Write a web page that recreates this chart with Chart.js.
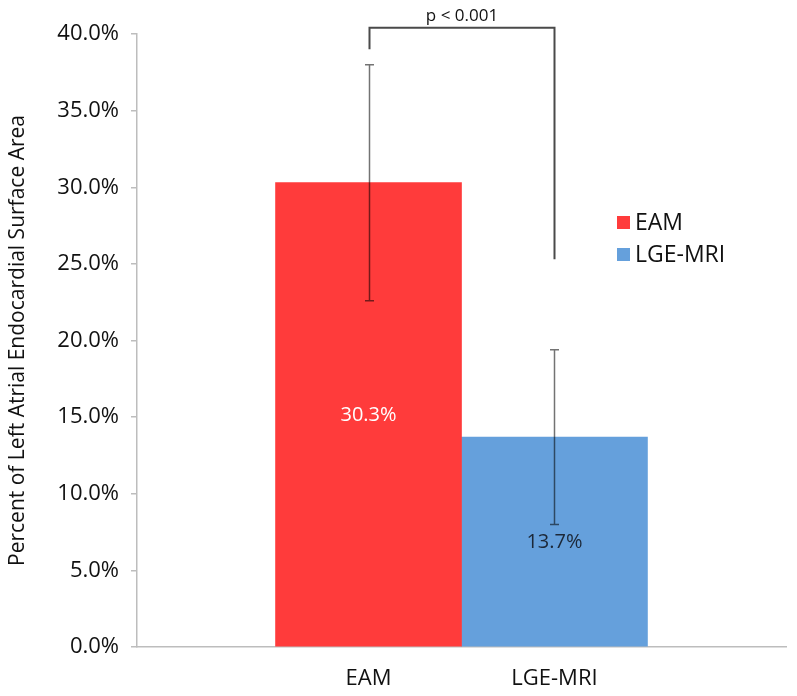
<!DOCTYPE html>
<html>
<head>
<meta charset="utf-8">
<script src="https://cdn.jsdelivr.net/npm/chart.js@4/dist/chart.umd.min.js"></script>
<style>
  html, body { margin: 0; padding: 0; background: #fff; }
  #wrap { width: 797px; height: 696px; }
</style>
</head>
<body>
<div id="wrap"><canvas id="chart" width="797" height="696"></canvas></div>
<script>
// --- DATA ---
const categories = ['EAM', 'LGE-MRI'];
const means = [30.3, 13.7];
const errLow = [22.6, 8.0];
const errHigh = [38.0, 19.4];
const barColors = ['#ff3b3b', '#65a0dc'];
const valueLabelColors = ['#ffffff', '#1c2838'];
const yTicks = [0, 5, 10, 15, 20, 25, 30, 35, 40];
// significance bracket (in % units): left end, top, right end
const bracket = { left: 39.0, top: 40.4, right: 25.3, text: 'p < 0.001' };

const FONT = '"Open Sans", "Noto Sans", sans-serif';

// --- PLUGIN: error bars, bracket, value labels, legend ---
const extras = {
    id: 'extras',
    afterDatasetsDraw(chart) {
        const ctx = chart.ctx;
        const x = chart.scales.x, y = chart.scales.y;
        ctx.save();

        // value labels in the middle of each bar
        ctx.font = '20px ' + FONT;
        ctx.textAlign = 'center';
        ctx.textBaseline = 'middle';
        means.forEach((v, i) => {
            ctx.fillStyle = valueLabelColors[i];
            ctx.fillText(v.toFixed(1) + '%', x.getPixelForValue(i + 1), y.getPixelForValue(v / 2));
        });

        // error bars
        ctx.strokeStyle = 'rgba(0,0,0,0.55)';
        ctx.lineWidth = 1.5;
        means.forEach((v, i) => {
            const px = Math.round(x.getPixelForValue(i + 1)) + 0.5;
            const lo = y.getPixelForValue(errLow[i]);
            const hi = y.getPixelForValue(errHigh[i]);
            ctx.beginPath();
            ctx.moveTo(px, lo); ctx.lineTo(px, hi);
            ctx.moveTo(px - 4.5, lo); ctx.lineTo(px + 4.5, lo);
            ctx.moveTo(px - 4.5, hi); ctx.lineTo(px + 4.5, hi);
            ctx.stroke();
        });

        // significance bracket
        const bx1 = Math.round(x.getPixelForValue(1)) + 0.5;
        const bx2 = Math.round(x.getPixelForValue(2)) + 0.5;
        const topY = y.getPixelForValue(bracket.top);
        ctx.strokeStyle = '#4a4a4a';
        ctx.lineWidth = 2;
        ctx.beginPath();
        ctx.moveTo(bx1, y.getPixelForValue(bracket.left));
        ctx.lineTo(bx1, topY);
        ctx.lineTo(bx2, topY);
        ctx.lineTo(bx2, y.getPixelForValue(bracket.right));
        ctx.stroke();
        ctx.fillStyle = '#111';
        ctx.font = '17px ' + FONT;
        ctx.textBaseline = 'bottom';
        ctx.fillText(bracket.text, (bx1 + bx2) / 2, topY - 3);

        // legend
        ctx.font = '23px ' + FONT;
        ctx.textAlign = 'left';
        ctx.textBaseline = 'middle';
        categories.forEach((c, i) => {
            const cy = 223 + i * 32;
            ctx.fillStyle = barColors[i];
            ctx.fillRect(617, cy - 7, 13, 13);
            ctx.fillStyle = '#111';
            ctx.fillText(c, 635, cy);
        });

        ctx.restore();
    }
};

new Chart(document.getElementById('chart'), {
    type: 'bar',
    data: {
        datasets: categories.map((c, i) => ({
            label: c,
            data: [{ x: i + 1, y: means[i] }],
            backgroundColor: barColors[i],
            borderWidth: 0,
            barPercentage: 1,
            categoryPercentage: 1,
            grouped: false
        }))
    },
    options: {
        responsive: false,
        animation: false,
        layout: { padding: { top: 34, right: 11, bottom: 0, left: 0 } },
        plugins: { legend: { display: false }, tooltip: { enabled: false } },
        scales: {
            x: {
                type: 'linear',
                offset: false,
                min: -0.245,
                max: 3.245,
                afterBuildTicks: s => { s.ticks = categories.map((c, i) => ({ value: i + 1 })); },
                afterFit: s => { s.height = 49; },
                ticks: {
                    autoSkip: false,
                    maxRotation: 0,
                    padding: 19,
                    color: '#111',
                    font: { family: FONT, size: 22 },
                    callback: v => categories[v - 1] || ''
                },
                grid: { display: false, drawTicks: false },
                border: { color: '#bdbdbd', width: 1.5 }
            },
            y: {
                min: 0,
                max: 40,
                afterBuildTicks: s => { s.ticks = yTicks.map(v => ({ value: v })); },
                afterFit: s => { s.width = 137; },
                ticks: {
                    padding: 12,
                    color: '#111',
                    font: { family: FONT, size: 22 },
                    callback: v => v.toFixed(1) + '%'
                },
                grid: { display: true, drawOnChartArea: false, drawTicks: true, tickLength: 6, color: '#bdbdbd', lineWidth: 1.5 },
                border: { color: '#bdbdbd', width: 1.5 },
                title: {
                    display: true,
                    text: 'Percent of Left Atrial Endocardial Surface Area',
                    color: '#111',
                    font: { family: FONT, size: 21 },
                    padding: { top: 5, bottom: 0 }
                }
            }
        }
    },
    plugins: [extras]
});
</script>
</body>
</html>
